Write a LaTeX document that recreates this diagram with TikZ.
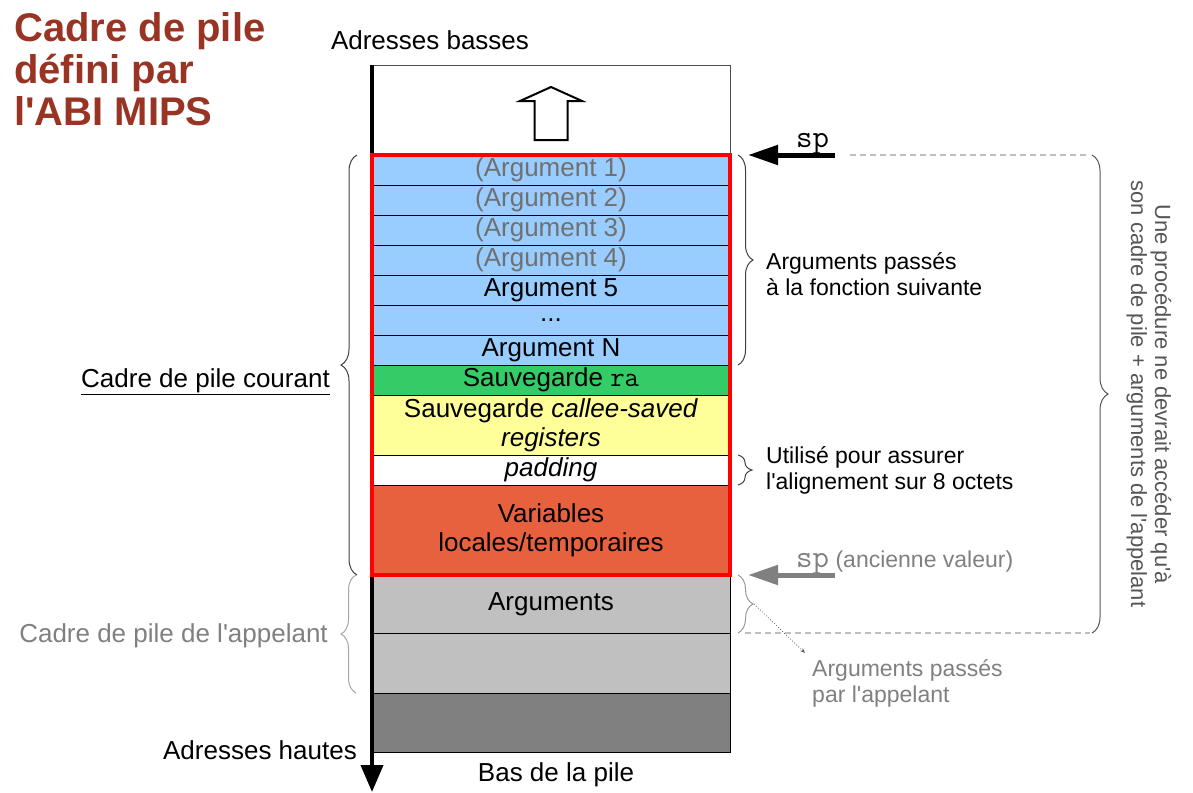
\documentclass[tikz,border=0pt]{standalone}
\usepackage{fontspec}
\setmainfont{Liberation Sans}[Ligatures=TeXOff]
\usetikzlibrary{positioning, arrows.meta, decorations.pathreplacing}

\definecolor{bleuarg}{HTML}{99CCFF}
\definecolor{vertsauv}{HTML}{33CC66}
\definecolor{jaunesauv}{HTML}{FFFF99}
\definecolor{rougevar}{HTML}{E8613F}
\definecolor{grisclair}{HTML}{C0C0C0}
\definecolor{grisfonce}{HTML}{808080}
\definecolor{grisarg}{HTML}{707070}
\definecolor{grisnote}{HTML}{555555}
\definecolor{rougetitre}{HTML}{993324}

\newcommand{\taillegrande}{\fontsize{26}{29}\selectfont}
\newcommand{\taillemoyenne}{\fontsize{23}{26}\selectfont}
\newcommand{\taillepetite}{\fontsize{22}{24}\selectfont}
\newcommand{\taillemono}{\fontsize{32}{34}\selectfont}
\newcommand{\tailletitre}{\fontsize{40}{42}\selectfont}

\begin{document}
\begin{tikzpicture}[x=1pt, y=-1pt,
		case/.style={draw, line width=1pt, minimum width=358pt, minimum height=30pt, inner sep=0pt, outer sep=0pt, align=center, font=\taillegrande},
		accolade/.style={decorate, decoration={brace, amplitude=#1}, line width=1pt, draw=black!75},
		accolade/.default=15pt,
		fleche/.style={line width=5pt, -{Triangle[length=30pt, width=19pt]}},
		pointilles/.style={draw=black!25, line width=2pt, dash pattern=on 6pt off 4pt},
		etiquette/.style={align=left, anchor=west, font=\taillemoyenne, inner sep=0pt},
		texte/.style={font=\taillegrande, inner sep=0pt}
	]
	\useasboundingbox (0,0) rectangle (1193,792);

	% Titre
	\node[font=\tailletitre\bfseries, text=rougetitre, align=left, anchor=north west, inner sep=0pt] (titre) at (14,12) {Cadre de pile\\défini par\\l'ABI MIPS};

	% Pile
	\node[case, minimum height=90pt, draw=black!70, line width=0.8pt] (vide) at (551,110) {};
	\node[case, fill=bleuarg, text=grisarg, below=0pt of vide] (arg1) {(Argument 1)};
	\node[case, fill=bleuarg, text=grisarg, below=0pt of arg1] (arg2) {(Argument 2)};
	\node[case, fill=bleuarg, text=grisarg, below=0pt of arg2] (arg3) {(Argument 3)};
	\node[case, fill=bleuarg, text=grisarg, below=0pt of arg3] (arg4) {(Argument 4)};
	\node[case, fill=bleuarg, below=0pt of arg4] (arg5) {Argument 5};
	\node[case, fill=bleuarg, below=0pt of arg5] (points) {...};
	\node[case, fill=bleuarg, below=0pt of points] (argN) {Argument N};
	\node[case, fill=vertsauv, below=0pt of argN] (ra) {Sauvegarde {\fontsize{28}{29}\selectfont\texttt{ra}}};
	\node[case, fill=jaunesauv, minimum height=60pt, below=0pt of ra] (callee) {Sauvegarde \textit{callee-saved}\\\textit{registers}};
	\node[case, fill=white, below=0pt of callee] (padding) {\textit{padding}};
	\node[case, fill=rougevar, minimum height=90pt, below=0pt of padding] (vars) {Variables\\locales/temporaires};
	\node[case, fill=grisclair, minimum height=58pt, below=0pt of vars] (argsapp) {Arguments};
	\node[case, fill=grisclair, minimum height=60pt, below=0pt of argsapp] (videapp) {};
	\node[case, fill=grisfonce, minimum height=59pt, below=0pt of videapp] (fond) {};

	% Fleche vers le haut
	\draw[line width=2pt, fill=white] ([yshift=23pt]vide.center) -- ++(31,14) -- ++(-14.5,0) -- ++(0,39) -- ++(-33,0) -- ++(0,-39) -- ++(-14.5,0) -- cycle;

	% Axe des adresses
	\coordinate (axebas) at (372,792);
	\draw[line width=4pt, -{Triangle[length=27pt, width=22pt]}] (vide.north west) -- (axebas);
	\draw[red, line width=4pt] (arg1.north west) rectangle (vars.south east);

	\node[texte, anchor=base] (basses) at (430,50) {Adresses basses};
	\node[texte, anchor=base east] (hautes) at (357,759) {Adresses hautes};
	\node[texte, anchor=base] (baspile) at (556,781) {Bas de la pile};

	% Pointeurs de pile
	\coordinate (spbout) at (835,155);
	\coordinate (spancien) at (835,575);
	\draw[fleche] (spbout) -- ([xshift=18pt]arg1.north east);
	\draw[fleche, grisfonce] (spancien) -- ([xshift=18pt]vars.south east);
	\node[font=\taillemono, inner sep=0pt, anchor=base west] (sp) at (796,147) {\texttt{sp}};
	\node[font=\taillemoyenne, text=grisfonce, inner sep=0pt, anchor=base west] (spvieux) at (796,567) {{\taillemono\texttt{sp}} (ancienne valeur)};

	% Accolades de droite
	\draw[accolade] ([xshift=8pt]arg1.north east) -- ([xshift=8pt]argN.south east);
	\draw[accolade=14pt] ([xshift=8pt]padding.north east) -- ([xshift=8pt]padding.south east);
	\draw[accolade, draw=black!40] ([xshift=8pt]argsapp.north east) -- ([xshift=8pt]argsapp.south east);
	\coordinate (pointeapp) at ([xshift=24pt]argsapp.east);

	\node[etiquette] (argsuiv) at (766,274) {Arguments passés\\à la fonction suivante};
	\node[etiquette] (aligne) at (766,470) {Utilisé pour assurer\\l'alignement sur 8 octets};
	\node[etiquette, text=grisfonce] (argsappel) at (812,683) {Arguments passés\\par l'appelant};
	\draw[black!65, line width=0.8pt, dotted, -{Stealth[length=5pt, width=4pt]}] (pointeapp) -- ([shift={(-7,-6)}]argsappel.north west);

	% Limite d'acces
	\draw[pointilles] ([xshift=120pt]arg1.north east) -- ([xshift=360pt]arg1.north east);
	\draw[pointilles] ([xshift=15pt]argsapp.south east) -- ([xshift=360pt]argsapp.south east);
	\draw[accolade=16pt, draw=grisnote] ([xshift=362pt]arg1.north east) -- ([xshift=362pt]argsapp.south east);
	\node[rotate=-90, font=\taillepetite, text=grisnote, align=center, inner sep=0pt] (regle) at (1149,394) {Une procédure ne devrait accéder qu'à\\son cadre de pile + arguments de l'appelant};

	% Accolades de gauche
	\draw[accolade=16pt] ([xshift=-15pt]vars.south west) -- ([xshift=-15pt]arg1.north west);
	\draw[accolade=15pt, draw=black!35] ([xshift=-16pt]videapp.south west) -- ([xshift=-16pt]argsapp.north west);
	\node[texte, anchor=base east] (courant) at (330,387) {\underline{Cadre de pile courant}};
	\node[texte, anchor=base east, text=grisfonce] (appelant) at (328,642) {Cadre de pile de l'appelant};
\end{tikzpicture}
\end{document}
